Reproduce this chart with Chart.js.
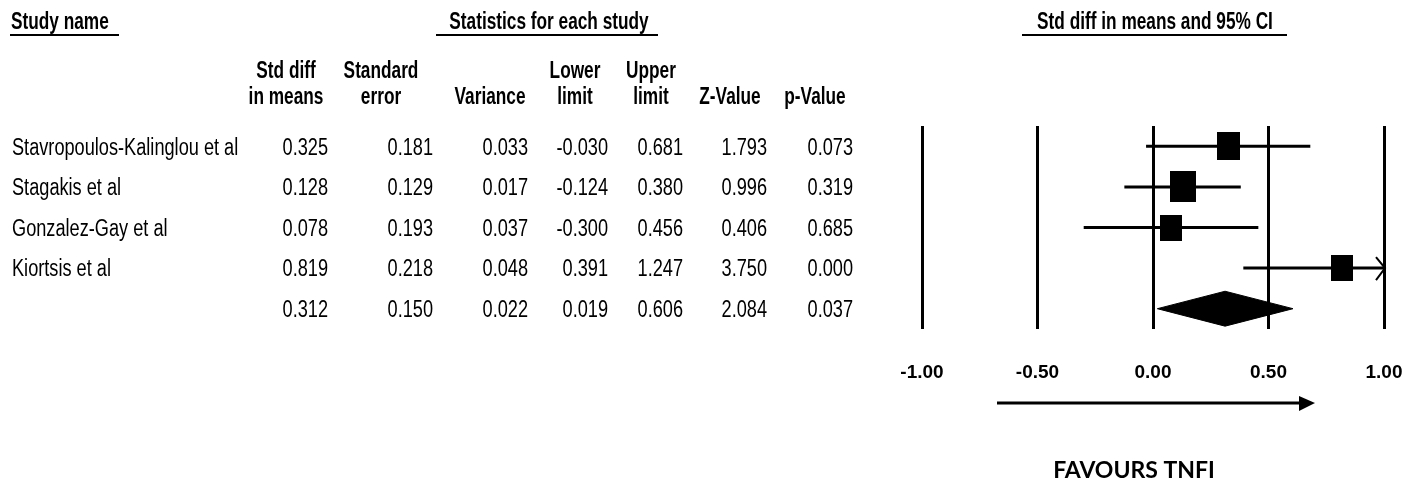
<!DOCTYPE html>
<html>
<head>
<meta charset="utf-8">
<script src="https://cdn.jsdelivr.net/npm/chart.js@4.4.1/dist/chart.umd.min.js"></script>
<style>
  html, body { margin: 0; padding: 0; background: #fff; }
  #wrap { width: 1417px; height: 481px; }
</style>
</head>
<body>
<div id="wrap"><canvas id="forest" width="1417" height="481"></canvas></div>
<script>
// study rows, last row is the pooled estimate
const studies = ['Stavropoulos-Kalinglou et al', 'Stagakis et al', 'Gonzalez-Gay et al', 'Kiortsis et al', ''];
const stdDiff = [0.325, 0.128, 0.078, 0.819, 0.312];
const stdErr = [0.181, 0.129, 0.193, 0.218, 0.150];
const variance = [0.033, 0.017, 0.037, 0.048, 0.022];
const lowerLimit = [-0.030, -0.124, -0.300, 0.391, 0.019];
const upperLimit = [0.681, 0.380, 0.456, 1.247, 0.606];
const zValue = [1.793, 0.996, 0.406, 3.750, 2.084];
const pValue = [0.073, 0.319, 0.685, 0.000, 0.037];
const xTicks = [-1, -0.5, 0, 0.5, 1];

function hasFont(name) {
  const c = document.createElement('canvas').getContext('2d');
  c.font = '40px monospace';
  const a = c.measureText('abcdefghijWMl0123').width;
  c.font = '40px "' + name + '", monospace';
  return c.measureText('abcdefghijWMl0123').width !== a;
}
const NARROW = hasFont('Liberation Sans Narrow');
const FAM = NARROW ? '"Liberation Sans Narrow"' : '"Liberation Sans", Arial';
const SX_REG = NARROW ? 0.96 : 0.79;
const SX_BOLD = NARROW ? 0.91 : 0.75;

function txt(ctx, s, x, y, align, bold) {
  ctx.save();
  ctx.font = (bold ? 'bold ' : '') + '23px ' + FAM;
  ctx.fillStyle = '#000';
  ctx.textBaseline = 'middle';
  ctx.textAlign = align;
  ctx.translate(x, y);
  ctx.scale(bold ? SX_BOLD : SX_REG, 1);
  ctx.fillText(s, 0, 0);
  ctx.restore();
}

function hline(ctx, x1, x2, y, w) {
  ctx.save();
  ctx.strokeStyle = '#000';
  ctx.lineWidth = w;
  ctx.beginPath();
  ctx.moveTo(x1, y);
  ctx.lineTo(x2, y);
  ctx.stroke();
  ctx.restore();
}

// table columns (layout only)
const cols = [
  { vals: stdDiff, right: 328, cx: 286, head: ['Std diff', 'in means'] },
  { vals: stdErr, right: 433, cx: 381, head: ['Standard', 'error'] },
  { vals: variance, right: 528, cx: 490, head: ['', 'Variance'] },
  { vals: lowerLimit, right: 608, cx: 575, head: ['Lower', 'limit'] },
  { vals: upperLimit, right: 683, cx: 651, head: ['Upper', 'limit'] },
  { vals: zValue, right: 767, cx: 730, head: ['', 'Z-Value'] },
  { vals: pValue, right: 853, cx: 815, head: ['', 'p-Value'] }
];

function squareImg(i) {
  const wt = 1 / variance[i];
  const w = Math.round(19 + 0.12 * wt);
  const h = Math.round(w * 1.2);
  const c = document.createElement('canvas');
  c.width = w; c.height = h;
  const g = c.getContext('2d');
  g.fillStyle = '#000';
  g.fillRect(0, 0, w, h);
  return c;
}

const nStudies = 4;
const datasets = [];
for (let i = 0; i < nStudies; i++) {
  datasets.push({
    type: 'line',
    data: [{ x: lowerLimit[i], y: i + 1 }, { x: upperLimit[i], y: i + 1 }],
    borderColor: '#000',
    borderWidth: 3,
    pointRadius: 0,
    fill: false,
    order: 2
  });
}
const squares = [];
for (let i = 0; i < nStudies; i++) squares.push({ x: stdDiff[i], y: i + 1 });
const imgs = squares.map((p, i) => squareImg(i));
datasets.push({
  type: 'scatter',
  data: squares,
  pointStyle: ctx => imgs[ctx.dataIndex],
  pointRadius: 12,
  backgroundColor: '#000',
  borderWidth: 0,
  order: 1
});
// pooled estimate diamond
const s = nStudies, dh = 0.43;
datasets.push({
  type: 'line',
  data: [
    { x: lowerLimit[s], y: s + 1 },
    { x: stdDiff[s], y: s + 1 - dh },
    { x: upperLimit[s], y: s + 1 },
    { x: stdDiff[s], y: s + 1 + dh },
    { x: lowerLimit[s], y: s + 1 }
  ],
  borderColor: '#000',
  backgroundColor: '#000',
  borderWidth: 1,
  pointRadius: 0,
  fill: 'shape',
  order: 1
});

const forestText = {
  id: 'forestText',
  afterDraw(chart) {
    const ctx = chart.ctx;
    const xs = chart.scales.x, ys = chart.scales.y;
    // headers
    txt(ctx, 'Study name', 11, 23, 'left', true);
    hline(ctx, 10, 119, 35, 2);
    txt(ctx, 'Statistics for each study', 549, 23, 'center', true);
    hline(ctx, 436, 658, 35, 2);
    txt(ctx, 'Std diff in means and 95% CI', 1155, 23, 'center', true);
    hline(ctx, 1022, 1287, 35, 2);
    cols.forEach(c => {
      if (c.head[0]) txt(ctx, c.head[0], c.cx, 72, 'center', true);
      txt(ctx, c.head[1], c.cx, 98, 'center', true);
    });
    // rows
    studies.forEach((name, i) => {
      const y = ys.getPixelForValue(i + 1) + 2;
      if (name) txt(ctx, name, 12, y, 'left', false);
      cols.forEach(c => txt(ctx, c.vals[i].toFixed(3), c.right, y, 'right', false));
    });
    // arrow for CI beyond axis
    const xmax = xs.max;
    ctx.save();
    ctx.strokeStyle = '#000';
    ctx.lineWidth = 2;
    for (let i = 0; i < nStudies; i++) {
      if (upperLimit[i] > xmax) {
        const px = xs.getPixelForValue(xmax), py = ys.getPixelForValue(i + 1);
        ctx.beginPath();
        ctx.moveTo(px - 8, py - 11);
        ctx.lineTo(px + 1, py);
        ctx.lineTo(px - 8, py + 12);
        ctx.stroke();
      }
    }
    ctx.restore();
    // favours arrow
    hline(ctx, 997, 1301, 403, 3);
    ctx.save();
    ctx.fillStyle = '#000';
    ctx.beginPath();
    ctx.moveTo(1299, 396);
    ctx.lineTo(1315, 403);
    ctx.lineTo(1299, 411);
    ctx.closePath();
    ctx.fill();
    ctx.font = 'bold 23px Lato, "Open Sans", sans-serif';
    ctx.textAlign = 'center';
    ctx.textBaseline = 'middle';
    ctx.fillText('FAVOURS TNFI', 1134, 471);
    ctx.restore();
  }
};

new Chart(document.getElementById('forest'), {
  type: 'scatter',
  data: { datasets: datasets },
  options: {
    responsive: false,
    animation: false,
    layout: { padding: { left: 922, right: 33, top: 126, bottom: 68 } },
    plugins: { legend: { display: false }, tooltip: { enabled: false } },
    scales: {
      x: {
        type: 'linear',
        min: -1,
        max: 1,
        afterBuildTicks: sc => { sc.ticks = xTicks.map(v => ({ value: v })); },
        afterFit: sc => { sc.paddingLeft = 0; sc.paddingRight = 0; sc.height = 84; },
        grid: { color: '#000', lineWidth: 3, drawTicks: false },
        border: { display: false },
        ticks: {
          color: '#000',
          padding: 32,
          font: { family: FAM, size: NARROW ? 22 : 19, weight: 'bold' },
          callback: v => Number(v).toFixed(2)
        }
      },
      y: { type: 'linear', reverse: true, min: 0.5, max: 5.5, display: false }
    }
  },
  plugins: [forestText]
});
</script>
</body>
</html>
